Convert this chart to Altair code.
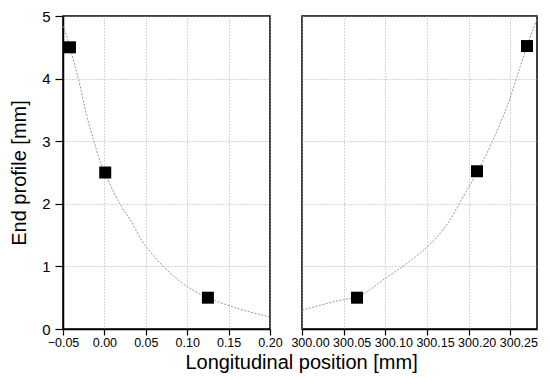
import altair as alt
import pandas as pd

# Measured points (left and right ends)
left_x = [-0.0416, 0.001, 0.125]
left_y = [4.5, 2.5, 0.5]
right_x = [300.066, 300.21, 300.27]
right_y = [0.5, 2.52, 4.52]

# Fitted curves
left_curve_x = [-0.0496, -0.0416, -0.0355, -0.0295, -0.0215, -0.0135, -0.0075, 0.0006, 0.0066, 0.0187,
                0.0328, 0.0448, 0.0588, 0.085, 0.101, 0.125, 0.155, 0.175, 0.199]
left_curve_y = [4.84, 4.5, 4.2, 3.89, 3.41, 3.04, 2.77, 2.5, 2.32, 2.0,
                1.71, 1.42, 1.18, 0.83, 0.67, 0.5, 0.355, 0.275, 0.196]
right_curve_x = [300.0, 300.05, 300.066, 300.10, 300.126, 300.15, 300.176, 300.192, 300.21, 300.23,
                 300.252, 300.262, 300.27, 300.282]
right_curve_y = [0.30, 0.47, 0.51, 0.81, 1.05, 1.31, 1.71, 2.08, 2.5, 3.04,
                 3.78, 4.2, 4.52, 4.95]

left_ticks = [-0.05 + 0.025 * i for i in range(11)]
right_ticks = [300.0 + 0.025 * i for i in range(12)]
y_ticks = [0.5 * i for i in range(11)]

FONT = "Liberation Sans"

major_x = "round(datum.value*1000) % 50 === 0"
major_y = "round(datum.value*10) % 10 === 0"


def x_axis(values, dx):
    return alt.Axis(
        values=values, format=".2f", title=None,
        labelExpr=f"{major_x} ? datum.label : ''",
        tickSize={"condition": {"test": major_x, "value": 6}, "value": 4},
        gridOpacity={"condition": {"test": major_x, "value": 1}, "value": 0},
        labelFontSize=12.5, labelFont=FONT, labelColor="black", labelPadding=1,
        labelOffset=dx,
        tickColor="black", tickWidth=1.2, domainColor="black", domainWidth=1.5,
        grid=True, gridColor="#999", gridDash=[1, 2], gridWidth=0.8,
        labelFlush=False, labelOverlap=False,
    )


def y_axis(show):
    if show:
        return alt.Axis(
            values=y_ticks, title="End profile [mm]",
            labelExpr=f"{major_y} ? format(datum.value, 'd') : ''",
            tickSize={"condition": {"test": major_y, "value": 8}, "value": 5},
            gridOpacity={"condition": {"test": major_y, "value": 1}, "value": 0},
            labelFontSize=15, labelFont=FONT, labelColor="black", labelPadding=5,
            titleFont=FONT, titleFontSize=20, titleFontWeight="normal", titleColor="black",
            titlePadding=12,
            tickColor="black", tickWidth=1.2, domainColor="black", domainWidth=1.5,
            grid=True, gridColor="#999", gridDash=[1, 2], gridWidth=0.8,
            labelFlush=False,
        )
    return alt.Axis(
        values=y_ticks, title=None, labels=False, ticks=False, domain=False,
        gridOpacity={"condition": {"test": major_y, "value": 1}, "value": 0},
        grid=True, gridColor="#999", gridDash=[1, 2], gridWidth=0.8,
    )


def panel(px, py, cx, cy, domain, ticks, show_y, width, dx):
    pts = pd.DataFrame({"x": px, "y": py})
    crv = pd.DataFrame({"x": cx, "y": cy})
    xs = alt.Scale(domain=domain, nice=False, zero=False)
    ys = alt.Scale(domain=[0, 5], nice=False)
    line = alt.Chart(crv).mark_line(color="#8a8a8a", strokeWidth=0.9, strokeDash=[2, 1.5],
                                    interpolate="monotone", clip=True).encode(
        x=alt.X("x:Q", scale=xs, axis=x_axis(ticks, dx)),
        y=alt.Y("y:Q", scale=ys, axis=y_axis(show_y)),
        order="x:Q",
    )
    sq = alt.Chart(pts).mark_square(size=144, color="black", opacity=1, filled=True).encode(
        x=alt.X("x:Q", scale=xs),
        y=alt.Y("y:Q", scale=ys),
    )
    return alt.layer(line, sq).properties(
        width=width, height=313,
        view=alt.ViewBackground(stroke="black", strokeWidth=1.5),
    )


left = panel(left_x, left_y, left_curve_x, left_curve_y, [-0.05, 0.20], left_ticks, True, 207, 0)
right = panel(right_x, right_y, right_curve_x, right_curve_y, [300.0, 300.282], right_ticks, False, 235, 8)

chart = alt.hconcat(left, right, spacing=32, bounds="flush").properties(
    padding=0,
    title=alt.TitleParams(
        "Longitudinal position [mm]", orient="bottom", anchor="middle",
        font=FONT, fontSize=20, fontWeight="normal", color="black", dx=28, offset=4,
    ),
).configure_view(stroke="black", strokeWidth=1.5)

chart.save("out.html", embed_options={"renderer": "svg", "actions": False})
